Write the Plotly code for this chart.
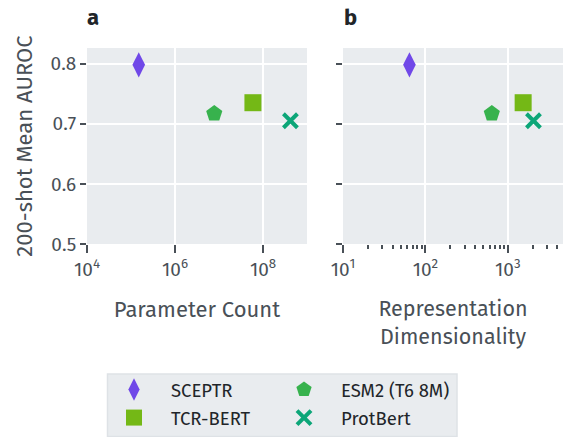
import plotly.graph_objects as go

# ---- data ----
models = ["SCEPTR", "TCR-BERT", "ESM2 (T6 8M)", "ProtBert"]
param_counts = [1.5e5, 5.9e7, 7.8e6, 4.2e8]
rep_dims = [64, 1536, 640, 2048]
auroc_200shot = [0.798, 0.735, 0.717, 0.705]

param_tickvals = [1e4, 1e6, 1e8]
param_ticktext = ["10<sup>4</sup>", "10<sup>6</sup>", "10<sup>8</sup>"]
dim_tickvals = [1e1, 1e2, 1e3]
dim_ticktext = ["10<sup>1</sup>", "10<sup>2</sup>", "10<sup>3</sup>"]

colors = ["#7048e8", "#74b816", "#37b24d", "#0ca678"]
symbols = ["diamond-tall", "square", "pentagon", "x-thin-open"]
sizes = [18, 17, 17, 14]
legend_ids = ["legend", "legend", "legend2", "legend2"]

W, H = 565, 437
FONT = "Fira Sans, Noto Sans, sans-serif"
TXT = "#495057"

fig = go.Figure()
for i, m in enumerate(models):
    mk = dict(color=colors[i], symbol=symbols[i], size=sizes[i])
    if symbols[i].startswith("x"):
        mk["line"] = dict(color=colors[i], width=4)
    else:
        mk["line"] = dict(width=0)
    fig.add_trace(go.Scatter(x=[param_counts[i]], y=[auroc_200shot[i]], mode="markers",
                             marker=mk, name=m, legend=legend_ids[i], legendgroup=m,
                             xaxis="x", yaxis="y", cliponaxis=False))
    fig.add_trace(go.Scatter(x=[rep_dims[i]], y=[auroc_200shot[i]], mode="markers",
                             marker=mk, name=m, showlegend=False, legendgroup=m,
                             xaxis="x2", yaxis="y2", cliponaxis=False))

def px_x(p):
    return p / W

def px_y(p):
    return (H - p) / H

ydom = [px_y(244), px_y(48)]
common_y = dict(range=[0.5, 0.826], tickvals=[0.5, 0.6, 0.7, 0.8], showgrid=True,
                gridcolor="white", gridwidth=2, zeroline=False, showline=False,
                ticks="outside", ticklen=6, tickwidth=1.5, tickcolor=TXT,
                tickfont=dict(size=19, color=TXT, family=FONT), domain=ydom,
                automargin=False)
common_x = dict(type="log", showgrid=True, gridcolor="white", gridwidth=2,
                zeroline=False, showline=False, ticks="outside", ticklen=8,
                tickwidth=1.5, tickcolor=TXT, automargin=False,
                tickfont=dict(size=19, color=TXT, family=FONT))

legend_common = dict(xanchor="left", yanchor="bottom", bgcolor="rgba(0,0,0,0)",
                     borderwidth=0, font=dict(size=18.5, color="#212529", family=FONT),
                     tracegroupgap=1, itemsizing="trace", itemwidth=64)

fig.update_layout(
    width=W, height=H,
    margin=dict(l=0, r=0, t=0, b=0),
    paper_bgcolor="white",
    plot_bgcolor="#e9ecef",
    font=dict(family=FONT, color=TXT),
    xaxis=dict(common_x, domain=[px_x(87), px_x(307)], range=[4, 9],
               tickvals=param_tickvals, ticktext=param_ticktext,
               anchor="y",
               title=dict(text="Parameter Count", font=dict(size=22, color=TXT), standoff=21)),
    yaxis=dict(common_y, anchor="x",
               title=dict(text="200-shot Mean AUROC", font=dict(size=22, color=TXT), standoff=11)),
    xaxis2=dict(common_x, domain=[px_x(343), px_x(563)], range=[1, 3.67],
                tickvals=dim_tickvals, ticktext=dim_ticktext,
                anchor="y2",
                minor=dict(ticks="outside", ticklen=4, tickwidth=1.5, tickcolor=TXT,
                           dtick="D1", showgrid=False),
                title=dict(text="Representation<br>Dimensionality",
                           font=dict(size=21.5, color=TXT), standoff=21)),
    yaxis2=dict(common_y, anchor="x2", showticklabels=False),
    legend=dict(legend_common, x=px_x(97), y=0),
    legend2=dict(legend_common, x=px_x(267), y=0),
    shapes=[dict(type="rect", xref="paper", yref="paper",
                 x0=px_x(107.5), x1=px_x(457), y0=px_y(436.5), y1=px_y(374),
                 fillcolor="#e9ecef", line=dict(color="#dee2e6", width=1.5),
                 layer="below")],
    annotations=[
        dict(text="<b>a</b>", x=px_x(85), y=px_y(18), xref="paper", yref="paper",
             xanchor="left", yanchor="middle", showarrow=False,
             font=dict(size=22, color="#212529", family=FONT)),
        dict(text="<b>b</b>", x=px_x(342), y=px_y(18), xref="paper", yref="paper",
             xanchor="left", yanchor="middle", showarrow=False,
             font=dict(size=22, color="#212529", family=FONT)),
    ],
)

fig.write_html("out.html", config={"displayModeBar": False},
               post_script="document.body.style.margin='0';")
